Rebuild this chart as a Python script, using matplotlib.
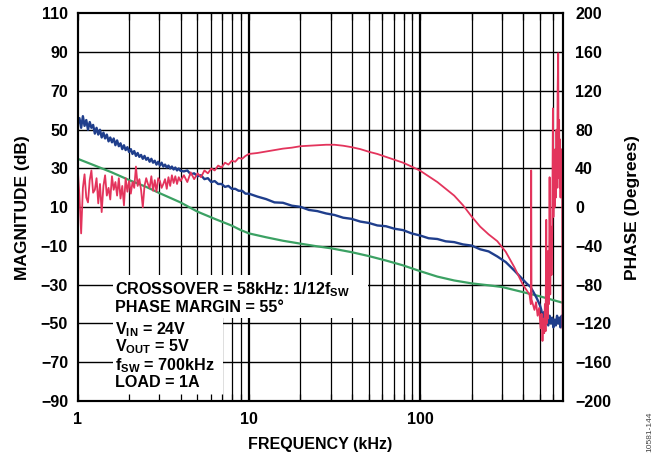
import numpy as np
import matplotlib
matplotlib.use("Agg")
import matplotlib.pyplot as plt
from matplotlib.patches import Rectangle

plt.rcParams['font.family'] = ['Liberation Sans', 'DejaVu Sans']
plt.rcParams['font.weight'] = 'bold'
plt.rcParams['mathtext.fontset'] = 'custom'
plt.rcParams['mathtext.rm'] = 'Liberation Sans:bold'
plt.rcParams['mathtext.bf'] = 'Liberation Sans:bold'
plt.rcParams['mathtext.it'] = 'Liberation Sans:bold'

# ---------------- data (kHz, dB, degrees) ----------------
f_low = [1.000, 1.023, 1.047, 1.072, 1.096, 1.122, 1.148, 1.175, 1.202, 1.230,
         1.259, 1.288, 1.318, 1.349, 1.380, 1.413, 1.445, 1.479, 1.514, 1.549,
         1.585, 1.622, 1.660, 1.698, 1.738, 1.778, 1.820, 1.862, 1.905, 1.950,
         1.995, 2.042, 2.089, 2.138, 2.188, 2.239, 2.291, 2.344, 2.399, 2.455,
         2.512, 2.570, 2.630, 2.692, 2.754, 2.818, 2.884, 2.951, 3.020, 3.090,
         3.162, 3.236, 3.311, 3.388, 3.467, 3.548, 3.631, 3.715, 3.802, 3.890,
         3.981, 4.169, 4.365, 4.571, 4.786, 5.012, 5.248, 5.495, 5.754, 6.026,
         6.310, 6.607, 6.918, 7.244, 7.586, 7.943, 8.318, 8.710, 9.120, 9.550, 10.0]
f_mid = [11.2, 12.6, 14.1, 15.8, 17.8, 20.0, 22.4, 25.1, 28.2, 31.6, 35.5, 39.8, 44.7,
         50.1, 56.2, 63.1, 70.8, 79.4, 89.1, 100, 112, 126, 141, 158, 178, 200, 224,
         251, 282, 316, 355, 398]

mag_low = [53, 56, 51, 57, 52, 55, 50, 54, 51, 52.5,
           48, 51, 47.5, 50, 46, 48.5, 45.5, 47.5, 44, 46,
           43.5, 45.5, 42, 44.5, 41.5, 43, 40, 42, 39.5, 41,
           38.5, 40, 37.5, 39, 36.5, 38, 36, 37, 35, 36.5,
           34.5, 35.5, 33.5, 35, 33, 34, 32, 33.5, 31.5, 33,
           31, 32, 30.5, 31.5, 30, 31, 29.5, 30.5, 29, 30,
           28.8, 28.5, 29.0, 27.0, 27.5, 26.0, 26.5, 24.5, 25.0, 23.0,
           23.5, 22.0, 22.0, 20.5, 21.0, 19.5, 19.5, 18.5, 18.5, 17.0, 17.0]
mag_mid = [15.5, 14.2, 12.5, 12.3, 10.8, 10.2, 8.6, 8.0, 6.8, 6.0, 4.6, 4.0, 2.6, 1.9,
           0.6, 0.2, -1.1, -1.8, -3.5, -4.6, -6.0, -6.4, -7.6, -8.0, -9.2, -9.8, -11.7,
           -12.8, -15.4, -18.3, -22.7, -27.3]
f_mag_hi = [420, 440, 460, 480, 500, 510, 520, 530, 540, 550, 560, 570, 580, 590, 600,
            610, 620, 630, 640, 650, 660, 670, 680]
mag_hi = [-29.5, -31, -34, -37, -40.5, -43, -47, -44, -49, -45, -51, -46, -50, -47, -52,
          -48, -51, -46, -50, -47, -52, -46, -49]

f_green = [1, 1.26, 1.58, 2, 2.51, 3.02, 3.98, 5.01, 6.31, 7.94, 8.91, 10, 12.6, 15.8,
           20, 25.1, 30.2, 39.8, 50.1, 63.1, 79.4, 100, 126, 158, 200, 251, 302, 398,
           501, 631, 680]
mag_green = [35, 31.5, 28, 24, 20.5, 17.2, 12.5, 7.7, 4.0, 0.5, -1.7, -3.5, -5.5, -7.3,
             -8.8, -10.2, -11.2, -13.2, -15.2, -17.5, -20, -23, -25.8, -27.8, -29.3,
             -30.3, -31.2, -33.8, -36, -38.5, -39.3]

ph_low = [40, 12, -27, 20, 34, 10, 5, 28, 38, 15,
          18, 30, 4, 24, -5, 22, 33, 12, 20, 8,
          32, 18, 26, 12, 30, 9, 22, 2, 30, 16,
          27, 14, 26, 20, 42, 22, 29, 18, 0, 22,
          30, 24, 20, 32, 17, 28, 16, 30, 27, 20,
          24, 29, 19, 31, 22, 33, 25, 32, 24, 31,
          27, 33, 26, 36, 29, 35, 31, 38, 35, 40,
          38, 43, 41, 46, 44, 48, 47, 51, 50, 53, 55]
ph_mid = [56, 57.5, 59, 60.5, 61.5, 63, 63.5, 64, 64.5, 64.5, 63.5, 62, 60, 57.3, 55, 52,
          49, 46, 42, 37.7, 32, 26, 19, 12, 2, -9.7, -20, -28, -35, -46, -62, -80]
f_ph_hi = [420, 435, 443, 445, 447, 455, 465, 475, 485, 495, 505, 512, 518, 524, 530,
           535, 540, 545, 548, 552, 556, 560, 565, 570, 575, 580, 585, 590, 596, 600,
           605, 610, 615, 620, 625, 630, 635, 640, 644, 648, 652, 656, 660, 665, 670,
           674, 678]
ph_hi = [-86, -90, -100, 38, -95, -100, -106, -98, -112, -104, -125, -110, -138, -115,
         -130, -100, -128, -13, -120, -60, -115, -45, -100, 31, -90, -20, -70, -30, 102,
         -10, 40, 0, 60, 10, 80, 20, 120, 159, 30, 90, 20, 70, 10, 60, 30, 50, -125]

mag_ticks = list(range(-90, 111, 20))
ph_ticks = list(range(-200, 201, 40))
grid_minor = [2, 3, 4, 5, 6, 7, 8, 9, 20, 30, 40, 50, 60, 70, 80, 90,
              200, 300, 400, 500, 600]
grid_major = [10, 100]

notes = [r"CROSSOVER = 58kHz: 1/12f$_{\mathrm{SW}}$",
         r"PHASE MARGIN = 55°",
         r"V$_{\mathrm{IN}}$ = 24V",
         r"V$_{\mathrm{OUT}}$ = 5V",
         r"f$_{\mathrm{SW}}$ = 700kHz",
         r"LOAD = 1A"]

BLUE = '#1f3e8c'
GREEN = '#3ba163'
RED = '#e3345c'

# ---------------- figure ----------------
fig = plt.figure(figsize=(6.57, 4.59), dpi=100)
ax = fig.add_axes([0.1183, 0.1264, 0.8565 - 0.1183, 0.9706 - 0.1264])
ax.set_xscale('log')
ax.set_xlim(1, 680)
ax.set_ylim(-90, 110)

for g in grid_minor:
    ax.axvline(g, color='black', lw=0.9, zorder=1)
for g in grid_major:
    ax.axvline(g, color='black', lw=1.6, zorder=1)
for t in mag_ticks[1:-1]:
    ax.axhline(t, color='black', lw=1.0, zorder=1)

# white boxes behind the annotation
ax.add_patch(Rectangle((0.073, 0.214), 0.525, 0.111, transform=ax.transAxes,
                       fc='white', ec='none', zorder=1.5))
ax.add_patch(Rectangle((0.073, 0.0), 0.227, 0.214, transform=ax.transAxes,
                       fc='white', ec='none', zorder=1.5))

ax.plot(f_green, mag_green, color=GREEN, lw=1.6, zorder=2)
ax.plot(f_low + f_mid + f_mag_hi, mag_low + mag_mid + mag_hi, color=BLUE, lw=1.7, zorder=2.1)

ax.set_yticks(mag_ticks)
ax.set_yticklabels([str(t).replace('-', '\u2212') for t in mag_ticks])
ax.set_xticks([1, 10, 100])
ax.set_xticklabels(['1', '10', '100'])
ax.xaxis.set_minor_locator(matplotlib.ticker.FixedLocator(grid_minor))
ax.xaxis.set_minor_formatter(matplotlib.ticker.NullFormatter())
ax.tick_params(axis='x', which='both', direction='in', length=5, width=0.9,
               top=True, labelsize=11.5, pad=8)
ax.tick_params(axis='y', length=0, labelsize=11.5, pad=7)
for s in ax.spines.values():
    s.set_linewidth(1.5)

ax.set_xlabel('FREQUENCY (kHz)', fontsize=11.5, fontweight='bold', labelpad=7)
ax.set_ylabel('MAGNITUDE (dB)', fontsize=12.5, fontweight='bold', labelpad=8)

ybase = [0.276, 0.229, 0.173, 0.127, 0.080, 0.035]
for txt, yb in zip(notes, ybase):
    ax.text(0.077, yb, txt, transform=ax.transAxes, fontsize=11.6, fontweight='bold',
            va='baseline', ha='left', zorder=3)

ax2 = ax.twinx()
ax2.set_ylim(-200, 200)
ax2.plot(f_low + f_mid + f_ph_hi, ph_low + ph_mid + ph_hi, color=RED, lw=1.3, zorder=2)
ax2.set_yticks(ph_ticks)
ax2.set_yticklabels([str(t).replace('-', '\u2212') for t in ph_ticks])
ax2.tick_params(axis='y', length=0, labelsize=11.5, pad=9)
for s in ax2.spines.values():
    s.set_linewidth(1.5)
ax2.set_ylabel('PHASE (Degrees)', fontsize=12.5, fontweight='bold', labelpad=10)

fig.text(0.989, 0.06, '10581-144', rotation=90, fontsize=6, color='#444444',
         fontweight='normal', ha='center', va='center')

fig.savefig('out.png', dpi=100)
